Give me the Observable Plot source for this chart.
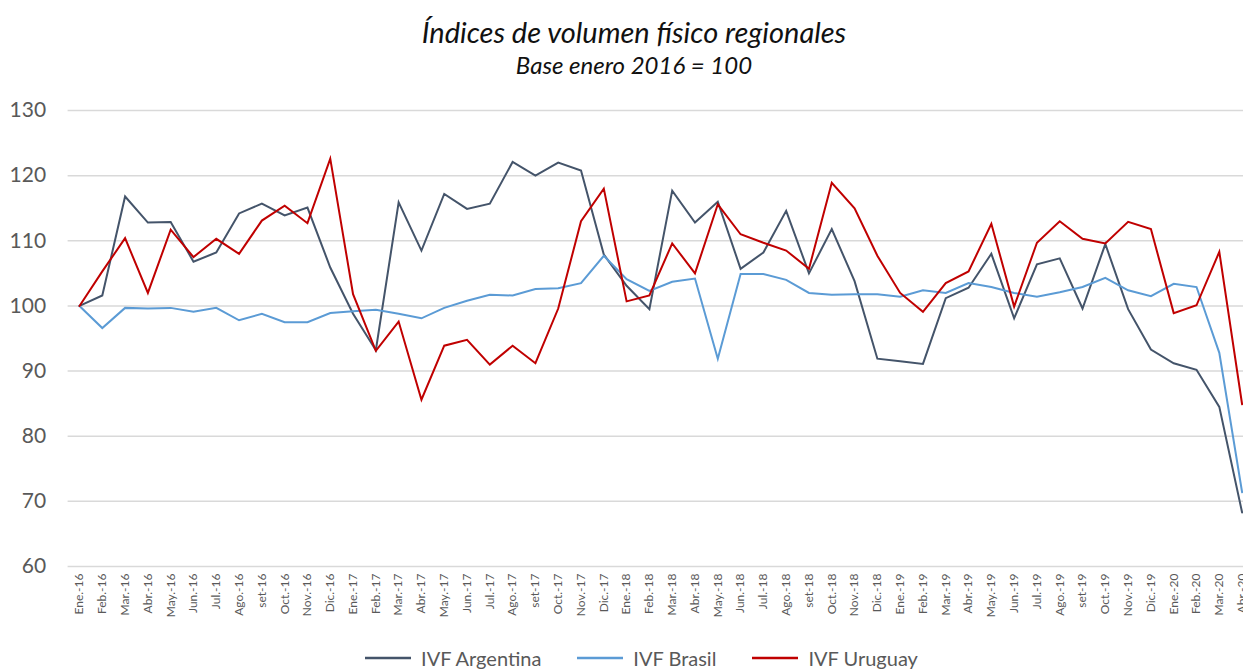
<!DOCTYPE html>
<html>
<head>
<meta charset="utf-8">
<script src="https://cdn.jsdelivr.net/npm/d3@7"></script>
<script src="https://cdn.jsdelivr.net/npm/@observablehq/plot@0.6"></script>
<style>
  html, body { margin: 0; padding: 0; background: #fff; overflow: hidden; width: 1243px; height: 669px; }
  body { font-family: Lato, "Open Sans", sans-serif; position: relative; }
  #title { position: absolute; left: 0; width: 1243px; top: 14px; text-align: center; font-style: italic; font-size: 29px; color: #111; line-height: 36px; padding-left: 25px; box-sizing: border-box; }
  #subtitle { position: absolute; left: 0; width: 1243px; top: 50px; text-align: center; font-style: italic; font-size: 24px; color: #111; line-height: 30px; padding-left: 25px; box-sizing: border-box; }
  #chart { position: absolute; left: 0; top: 80px; }
  #legend { position: absolute; left: 0; width: 1243px; top: 645px; display: flex; justify-content: center; gap: 36px; font-size: 20px; color: #595959; line-height: 26px; padding-left: 40px; box-sizing: border-box; }
  .item { display: flex; align-items: center; gap: 10px; }
</style>
</head>
<body>
<div id="title">Índices de volumen físico regionales</div>
<div id="subtitle">Base enero 2016 = 100</div>
<div id="chart"></div>
<div id="legend"></div>
<script>
const months = ["Ene.-16","Feb.-16","Mar.-16","Abr.-16","May.-16","Jun.-16","Jul.-16","Ago.-16","set-16","Oct.-16","Nov.-16","Dic.-16",
  "Ene.-17","Feb.-17","Mar.-17","Abr.-17","May.-17","Jun.-17","Jul.-17","Ago.-17","set-17","Oct.-17","Nov.-17","Dic.-17",
  "Ene.-18","Feb.-18","Mar.-18","Abr.-18","May.-18","Jun.-18","Jul.-18","Ago.-18","set-18","Oct.-18","Nov.-18","Dic.-18",
  "Ene.-19","Feb.-19","Mar.-19","Abr.-19","May.-19","Jun.-19","Jul.-19","Ago.-19","set-19","Oct.-19","Nov.-19","Dic.-19",
  "Ene.-20","Feb.-20","Mar.-20","Abr.-20"];

const argentina = [100,101.6,116.8,112.8,112.9,106.8,108.2,114.2,115.7,113.9,115.1,105.9,
  98.8,93.2,115.9,108.5,117.2,114.9,115.7,122.1,120.0,122.0,120.8,107.9,
  103.1,99.5,117.7,112.8,116.0,105.7,108.2,114.6,105.0,111.8,103.8,91.9,
  91.5,91.1,101.2,102.8,108.0,98.1,106.4,107.3,99.6,109.5,99.5,93.3,
  91.2,90.2,84.5,68.3];

const brasil = [100,96.6,99.7,99.6,99.7,99.1,99.7,97.8,98.8,97.5,97.5,98.9,
  99.2,99.4,98.8,98.1,99.7,100.8,101.7,101.6,102.6,102.7,103.5,107.7,
  104.1,102.3,103.7,104.2,91.9,104.9,104.9,104.0,102.0,101.7,101.8,101.8,
  101.4,102.4,102.0,103.5,102.9,102.0,101.4,102.1,102.9,104.3,102.4,101.5,
  103.4,102.9,92.8,71.4];

const uruguay = [100,105.3,110.4,102.0,111.7,107.5,110.3,108.0,113.1,115.4,112.7,122.6,
  101.8,93.1,97.6,85.6,93.9,94.8,91.0,93.9,91.2,99.6,113.0,118.0,
  100.7,101.6,109.6,105.0,115.6,111.0,109.7,108.5,105.7,118.9,115.0,107.7,
  102.0,99.1,103.5,105.3,112.6,99.9,109.7,113.0,110.3,109.6,112.9,111.8,
  98.9,100.1,108.3,84.9];

const seriesNames = ["IVF Argentina","IVF Brasil","IVF Uruguay"];
const seriesColors = ["#44546a","#5b9bd5","#c00000"];
const yTicks = [60,70,80,90,100,110,120,130];

const data = [];
[argentina, brasil, uruguay].forEach((vals, s) => {
  vals.forEach((v, i) => data.push({serie: seriesNames[s], mes: months[i], valor: v}));
});

const chart = Plot.plot({
  width: 1243,
  height: 565,
  marginLeft: 67.6,
  marginRight: -10,
  marginTop: 30,
  marginBottom: 79,
  style: {fontFamily: "Lato, 'Open Sans', sans-serif", background: "transparent", maxWidth: "none"},
  x: {type: "point", domain: months, padding: 0.5, label: null},
  y: {domain: [60,130], label: null},
  color: {domain: seriesNames, range: seriesColors},
  marks: [
    Plot.ruleY(yTicks, {stroke: "#d9d9d9", strokeWidth: 1.5}),
    Plot.axisY({ticks: yTicks, tickSize: 0, tickPadding: 22, fontSize: 21, fill: "#595959", label: null}),
    Plot.axisX({tickSize: 0, tickRotate: -90, tickPadding: 7, fontSize: 12, fill: "#595959", label: null}),
    Plot.line(data, {x: "mes", y: "valor", z: "serie", stroke: "serie", strokeWidth: 2, strokeLinejoin: "miter", strokeMiterlimit: 4})
  ]
});
document.getElementById("chart").appendChild(chart);

const legend = document.getElementById("legend");
seriesNames.forEach((n, i) => {
  const item = document.createElement("div");
  item.className = "item";
  item.innerHTML = `<svg width="46" height="4"><line x1="0" y1="2" x2="46" y2="2" stroke="${seriesColors[i]}" stroke-width="2.5"/></svg><span>${n}</span>`;
  legend.appendChild(item);
});
</script>
</body>
</html>
